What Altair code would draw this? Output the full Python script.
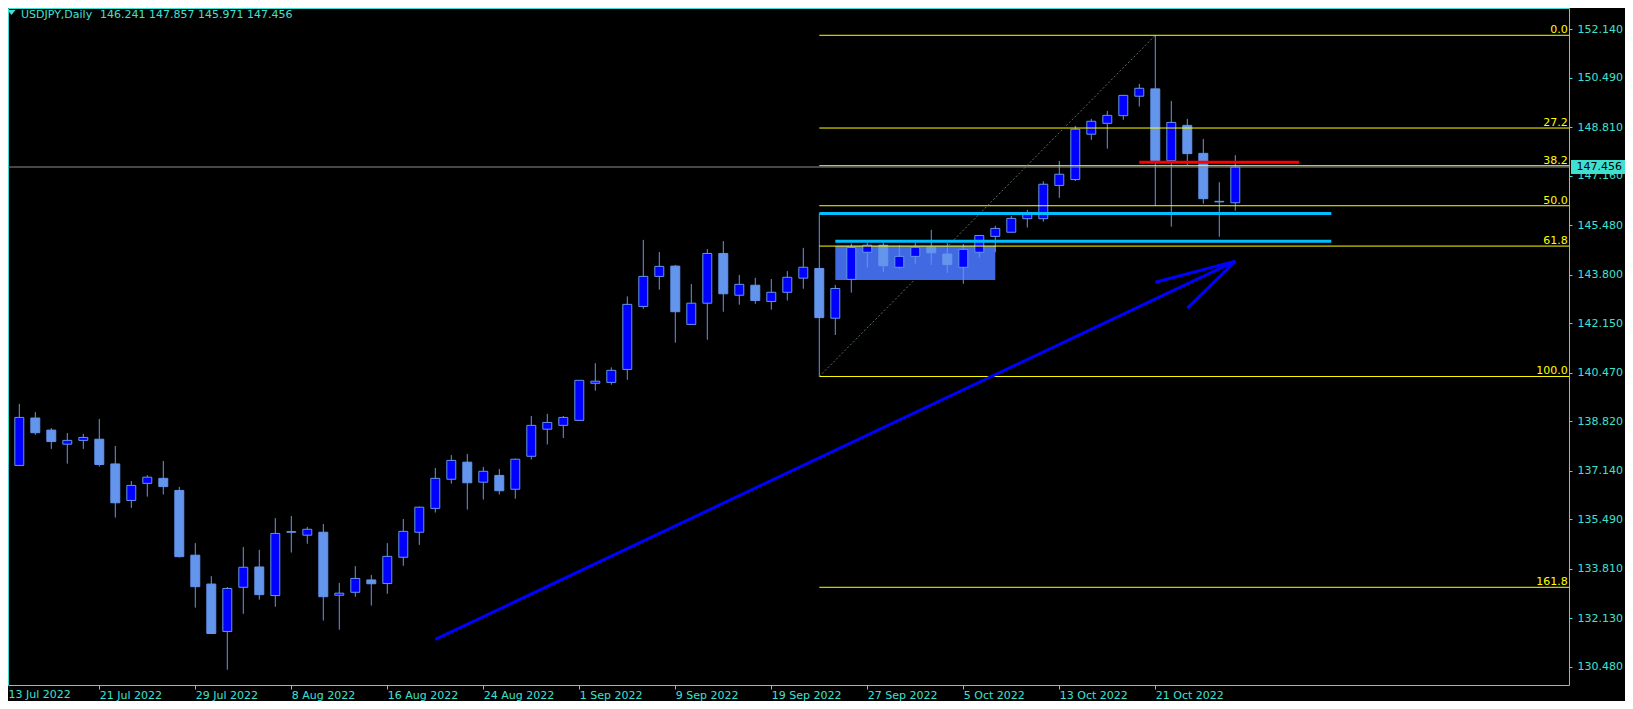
import altair as alt
import pandas as pd

# ---------------- data ----------------
opens = [136.85, 137.32, 138.93, 138.52, 138.04, 138.17, 138.21, 137.37, 136.13, 136.71,
         136.88, 136.47, 134.27, 133.29, 131.68, 133.18, 133.87, 132.90, 135.07, 134.95,
         135.05, 132.91, 133.01, 133.43, 133.31, 134.20, 135.05, 135.86, 136.85, 137.43,
         136.75, 136.98, 136.51, 137.63, 138.55, 138.68, 138.85, 140.11, 140.14, 140.58,
         142.72, 143.74, 144.09, 142.11, 142.83, 144.52, 143.10, 143.44, 142.89, 143.20,
         143.68, 144.01, 142.32, 143.64, 144.56, 144.80, 144.05, 144.42, 144.73, 144.50,
         144.05, 144.56, 145.10, 145.24, 145.70, 145.70, 146.83, 147.03, 148.57, 148.94,
         149.20, 149.86, 150.11, 147.67, 148.87, 147.92, 146.29, 146.241]
highs = [137.88, 139.41, 139.13, 138.59, 138.42, 138.39, 138.90, 137.98, 136.79, 136.99,
         137.47, 136.59, 134.68, 133.56, 133.19, 134.55, 134.45, 135.53, 135.60, 135.23,
         135.33, 133.33, 133.90, 133.60, 134.68, 135.50, 135.92, 137.23, 137.67, 137.71,
         137.27, 137.20, 137.55, 139.00, 139.07, 139.00, 140.22, 140.79, 140.65, 143.06,
         144.98, 144.57, 144.13, 143.48, 144.67, 144.94, 143.79, 143.69, 143.65, 143.92,
         144.71, 145.88, 143.45, 144.86, 144.89, 144.89, 144.80, 144.89, 145.32, 144.87,
         144.84, 145.14, 145.46, 145.79, 146.00, 146.97, 147.66, 148.85, 149.09, 149.36,
         149.90, 150.28, 151.93, 149.70, 149.09, 148.41, 146.94, 147.857]
lows = [136.70, 137.30, 138.36, 137.88, 137.38, 137.88, 137.28, 135.55, 135.88, 136.26,
        136.33, 134.19, 132.49, 131.60, 130.38, 132.28, 132.76, 132.52, 134.36, 134.66,
        132.05, 131.74, 132.86, 132.56, 132.96, 133.91, 134.62, 135.72, 136.70, 135.82,
        136.16, 136.33, 136.19, 137.52, 138.03, 138.25, 138.84, 139.86, 140.06, 140.23,
        142.64, 143.29, 141.49, 142.10, 141.59, 142.54, 142.78, 142.81, 142.61, 142.92,
        143.32, 140.34, 141.75, 143.19, 144.04, 143.89, 143.99, 144.17, 144.13, 143.86,
        143.49, 144.38, 144.56, 145.23, 145.40, 145.60, 146.41, 146.98, 148.38, 148.08,
        149.06, 149.51, 146.13, 145.43, 147.52, 146.21, 145.09, 145.971]
closes = [137.42, 138.95, 138.43, 138.13, 138.17, 138.27, 137.35, 136.05, 136.64, 136.92,
          136.60, 134.22, 133.20, 131.61, 133.14, 133.86, 132.93, 135.01, 135.05, 135.15,
          132.86, 132.98, 133.48, 133.30, 134.23, 135.08, 135.90, 136.88, 137.49, 136.73,
          137.12, 136.46, 137.53, 138.68, 138.78, 138.95, 140.21, 140.18, 140.55, 142.79,
          143.74, 144.08, 142.54, 142.83, 144.52, 143.15, 143.47, 142.92, 143.20, 143.71,
          144.05, 142.34, 143.33, 144.72, 144.80, 144.10, 144.42, 144.73, 144.54, 144.14,
          144.66, 145.13, 145.37, 145.71, 145.86, 146.87, 147.21, 148.74, 149.01, 149.21,
          149.89, 150.13, 147.67, 148.97, 147.91, 146.38, 146.27, 147.456]

date_ticks = [0, 6, 12, 18, 24, 30, 36, 42, 48, 54, 60, 66, 72]
date_labels = ["13 Jul 2022", "21 Jul 2022", "29 Jul 2022", "8 Aug 2022", "16 Aug 2022",
               "24 Aug 2022", "1 Sep 2022", "9 Sep 2022", "19 Sep 2022", "27 Sep 2022",
               "5 Oct 2022", "13 Oct 2022", "21 Oct 2022"]
price_ticks = [152.140, 150.490, 148.810, 147.160, 145.480, 143.800, 142.150,
               140.470, 138.820, 137.140, 135.490, 133.810, 132.130, 130.480]

fib_names = ["0.0", "27.2", "38.2", "50.0", "61.8", "100.0", "161.8"]
fib_prices = [151.93, 148.78, 147.50, 146.14, 144.77, 140.34, 133.18]
fib_start = [51] * 7

cyan_start = [51, 52]
cyan_end = [83, 83]
cyan_price = [145.88, 144.93]

red_start = [71]
red_end = [81]
red_price = [147.62]

box_x1 = [52]
box_x2 = [62]
box_top = [144.78]
box_bottom = [143.62]

trend_x1 = [27, 72, 74]
trend_y1 = [131.41, 143.54, 142.66]
trend_x2 = [77, 77, 77]
trend_y2 = [144.26, 144.26, 144.25]

diag_x1 = [51]
diag_y1 = [140.34]
diag_x2 = [72]
diag_y2 = [151.93]

last_price = 147.456
header_symbol = "USDJPY,Daily"
header_values = "146.241 147.857 145.971 147.456"

# ---------------- styling ----------------
FG = "#40E0D0"
FONT = "DejaVu Sans"
W, H = 1561, 677

xs = alt.Scale(domain=[0.29375, 97.85625], nice=False, zero=False)
ys = alt.Scale(domain=[129.861, 152.857], nice=False, zero=False)

label_array = "[" + ",".join("'" + s + "'" for s in date_labels) + "]"
xaxis = alt.Axis(values=date_ticks[1:], labelExpr=label_array + "[round(datum.value/6)]",
                 labelAlign="left", labelBaseline="top", labelPadding=0, tickSize=4,
                 tickColor=FG, labelColor=FG, labelFont=FONT, labelFontSize=11,
                 domain=False, grid=False, title=None, labelOverlap=False, labelFlush=False)
yaxis = alt.Axis(orient="right", values=price_ticks, format=".3f", labelFont=FONT,
                 labelFontSize=11, labelColor=FG, tickColor=FG, tickSize=3, labelPadding=5,
                 domain=False, grid=False, title=None, labelOverlap=False, labelFlush=False)


def X(f):
    return alt.X(f, type="quantitative", scale=xs, axis=xaxis)


def Y(f):
    return alt.Y(f, type="quantitative", scale=ys, axis=yaxis)


candles = pd.DataFrame({"i": list(range(len(opens))), "open": opens, "high": highs,
                        "low": lows, "close": closes})
candles["dir"] = ["up" if c >= o else "down" for o, c in zip(opens, closes)]

base = alt.Chart(candles)
wicks = base.mark_rule(color="#6495ED", strokeWidth=1, clip=True).encode(
    x=X("i"), y=Y("low"), y2="high")
bodies = base.transform_calculate(xl="datum.i - 0.28", xr="datum.i + 0.28").mark_rect(
    stroke="#6495ED", strokeWidth=1, clip=True).encode(
    x=X("xl"), x2="xr", y=Y("open"), y2="close",
    fill=alt.Fill("dir:N", scale=alt.Scale(domain=["up", "down"], range=["#0000FF", "#6495ED"]),
                  legend=None))

box = alt.Chart(pd.DataFrame({"x1": box_x1, "x2": box_x2, "t": box_top, "b": box_bottom})).mark_rect(
    color="#4169E1", clip=True).encode(x=X("x1"), x2="x2", y=Y("t"), y2="b")

fib_df = pd.DataFrame({"name": fib_names, "p": fib_prices, "s": fib_start})
fib_lines = alt.Chart(fib_df).mark_rule(color="#FFFF00", strokeWidth=1, clip=True).encode(
    x=X("s"), x2=alt.value(W), y=Y("p"))
fib_text = alt.Chart(fib_df).mark_text(color="#FFFF00", font=FONT, fontSize=11, align="right",
                                       baseline="alphabetic", dy=-2).encode(
    x=alt.value(W - 1.3), y=Y("p"), text="name:N")

price_df = pd.DataFrame({"p": [last_price], "t": [f"{last_price:.3f}"]})
price_line = alt.Chart(price_df).mark_rule(color="#8c8c8c", strokeWidth=1).encode(y=Y("p"))

diag = alt.Chart(pd.DataFrame({"x1": diag_x1, "y1": diag_y1, "x2": diag_x2, "y2": diag_y2})).mark_rule(
    color="#5a735a", strokeWidth=1, strokeDash=[2, 2], clip=True).encode(
    x=X("x1"), y=Y("y1"), x2="x2", y2="y2")

cyan = alt.Chart(pd.DataFrame({"s": cyan_start, "e": cyan_end, "p": cyan_price})).mark_rule(
    color="#00BFFF", strokeWidth=3, clip=True).encode(x=X("s"), x2="e", y=Y("p"))
red = alt.Chart(pd.DataFrame({"s": red_start, "e": red_end, "p": red_price})).mark_rule(
    color="#FF0000", strokeWidth=3, clip=True).encode(x=X("s"), x2="e", y=Y("p"))
trend = alt.Chart(pd.DataFrame({"x1": trend_x1, "y1": trend_y1, "x2": trend_x2, "y2": trend_y2})).mark_rule(
    color="#0000FF", strokeWidth=3, clip=True).encode(x=X("x1"), y=Y("y1"), x2="x2", y2="y2")

price_box = alt.Chart(price_df).mark_rect(color=FG, yOffset=-7, y2Offset=7).encode(
    x=alt.value(W + 2), x2=alt.value(W + 58), y=Y("p"), y2="p")
price_txt = alt.Chart(price_df).mark_text(color="#000000", font=FONT, fontSize=11, align="left",
                                          baseline="middle").encode(
    x=alt.value(W + 7.5), y=Y("p"), text="t:N")

# first date label sits at the left edge of the frame
first_df = pd.DataFrame({"t": [date_labels[0]]})
first_lbl = alt.Chart(first_df).mark_text(color=FG, font=FONT, fontSize=11, align="left",
                                          baseline="top").encode(
    x=alt.value(0.5), y=alt.value(H + 4), text="t:N")

hdr_df = pd.DataFrame({"a": [header_symbol], "b": [header_values]})
hdr_tri = alt.Chart(hdr_df).mark_point(shape="M-1,-0.6L1,-0.6L0,0.6Z", size=64, filled=True,
                                       color=FG, opacity=1).encode(x=alt.value(3.5), y=alt.value(4.5))
hdr_a = alt.Chart(hdr_df).mark_text(color=FG, font=FONT, fontSize=11, align="left",
                                    baseline="alphabetic").encode(
    x=alt.value(13), y=alt.value(9.5), text="a:N")
hdr_b = alt.Chart(hdr_df).mark_text(color=FG, font=FONT, fontSize=11, align="left",
                                    baseline="alphabetic").encode(
    x=alt.value(92), y=alt.value(9.5), text="b:N")

chart = alt.layer(
    box, wicks, bodies, fib_lines, price_line, diag, cyan, red, trend, fib_text,
    price_box, price_txt, first_lbl, hdr_tri, hdr_a, hdr_b
).properties(
    width=W, height=H,
    autosize=alt.AutoSizeParams(type="none"),
    padding={"left": 0, "top": 0, "right": 56, "bottom": 16},
).configure(background="#000000").configure_view(stroke=FG, strokeWidth=1)

chart.save("out.html", embed_options={"renderer": "svg", "actions": False})
